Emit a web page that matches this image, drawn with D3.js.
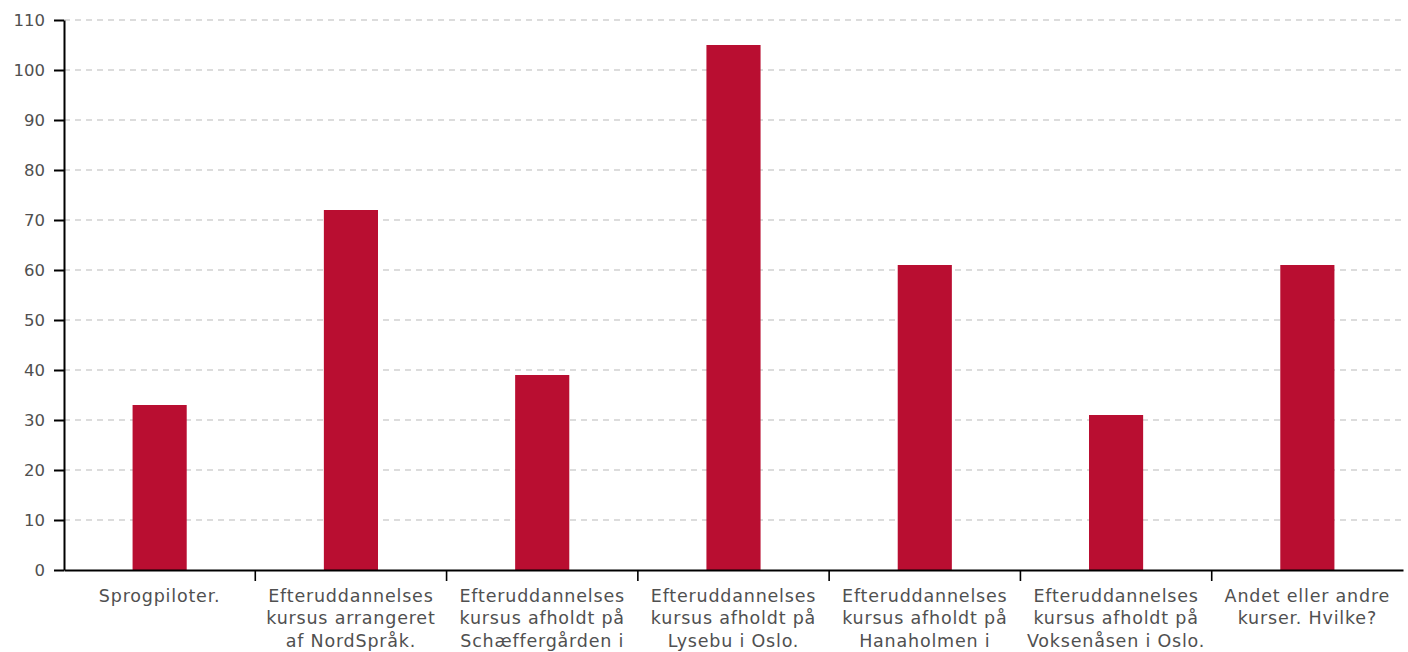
<!DOCTYPE html>
<html>
<head>
<meta charset="utf-8">
<script src="https://cdn.jsdelivr.net/npm/d3@7"></script>
<style>
  html, body { margin: 0; padding: 0; background: #fff; }
  svg { display: block; }
  text { font-family: "DejaVu Sans", "Noto Sans", sans-serif; fill: #505050; }
</style>
</head>
<body>
<svg id="chart" width="1408" height="652"></svg>
<script>
const categories = [
  "Sprogpiloter.",
  "Efteruddannelses kursus arrangeret af NordSpråk.",
  "Efteruddannelses kursus afholdt på Schæffergården i København.",
  "Efteruddannelses kursus afholdt på Lysebu i Oslo.",
  "Efteruddannelses kursus afholdt på Hanaholmen i Helsingfors.",
  "Efteruddannelses kursus afholdt på Voksenåsen i Oslo.",
  "Andet eller andre kurser. Hvilke?"
];
const values = [33, 72, 39, 105, 61, 31, 61];
const yTicks = [0, 10, 20, 30, 40, 50, 60, 70, 80, 90, 100, 110];

const W = 1408, H = 652;
const margin = { top: 20, right: 5, bottom: 82, left: 64 };
const innerW = W - margin.left - margin.right;
const innerH = H - margin.top - margin.bottom;

const svg = d3.select("#chart");
const g = svg.append("g").attr("transform", `translate(${margin.left},${margin.top})`);

const x = d3.scaleBand().domain(categories).range([0, innerW]).padding(0);
const y = d3.scaleLinear().domain([0, 110]).range([innerH, 0]);

// grid
g.append("g").selectAll("line").data(yTicks.filter(d => d > 0)).join("line")
  .attr("x1", 0).attr("x2", innerW)
  .attr("y1", d => y(d)).attr("y2", d => y(d))
  .attr("stroke", "#dcdcdc").attr("stroke-width", 2)
  .attr("stroke-dasharray", "6,5");

// bars
const bw = x.bandwidth() * 0.283;
g.append("g").selectAll("rect").data(values).join("rect")
  .attr("x", (d, i) => x(categories[i]) + x.bandwidth() / 2 - bw / 2)
  .attr("y", d => y(d))
  .attr("width", bw)
  .attr("height", d => y(0) - y(d))
  .attr("fill", "#b90e31");

// y axis
const yAxis = g.append("g").call(
  d3.axisLeft(y).tickValues(yTicks).tickSize(10).tickSizeOuter(0).tickPadding(9)
);
yAxis.select(".domain").attr("stroke", "#000").attr("stroke-width", 2);
yAxis.selectAll(".tick line").attr("stroke", "#000").attr("stroke-width", 2);
yAxis.selectAll(".tick text").style("font-family", "'DejaVu Sans', 'Noto Sans', sans-serif")
  .style("font-size", "16.5px").attr("fill", "#505050");

// x axis
const xAxis = g.append("g").attr("transform", `translate(0,${innerH})`).call(
  d3.axisBottom(x).tickSize(0).tickSizeOuter(0).tickFormat("")
);
xAxis.select(".domain").attr("stroke", "#000").attr("stroke-width", 2);

// boundary ticks
g.append("g").selectAll("line").data(categories.slice(1)).join("line")
  .attr("x1", d => x(d)).attr("x2", d => x(d))
  .attr("y1", innerH).attr("y2", innerH + 11)
  .attr("stroke", "#000").attr("stroke-width", 1.6);

// wrapped labels
const maxW = x.bandwidth() - 4;
const labels = g.append("g").selectAll("text").data(categories).join("text")
  .attr("x", d => x(d) + x.bandwidth() / 2)
  .attr("y", innerH + 32)
  .attr("text-anchor", "middle")
  .style("font-size", "17.5px")
  .style("letter-spacing", "0.8px");

labels.each(function(d) {
  const t = d3.select(this);
  const words = d.split(" ");
  let line = [];
  let tspan = t.append("tspan").attr("x", t.attr("x")).attr("dy", 0);
  words.forEach(w => {
    line.push(w);
    tspan.text(line.join(" "));
    if (tspan.node().getComputedTextLength() > maxW && line.length > 1) {
      line.pop();
      tspan.text(line.join(" "));
      line = [w];
      tspan = t.append("tspan").attr("x", t.attr("x")).attr("dy", 22.4).text(w);
    }
  });
});
</script>
</body>
</html>
